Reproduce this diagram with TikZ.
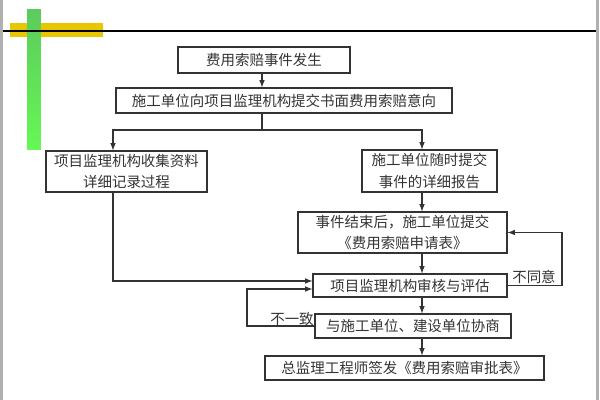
\documentclass[tikz,border=0pt]{standalone}
\usepackage{fontspec}
\newfontfamily\cjk{Noto Sans CJK SC}
\usepackage{xcolor}
\usepackage{tikz}
\usetikzlibrary{shapes, arrows, positioning, calc}
\definecolor{inchiostro}{HTML}{333333}
\definecolor{giallo}{HTML}{E8C600}
\definecolor{verdescuro}{HTML}{5CCB5C}
\definecolor{verdechiaro}{HTML}{66F855}
\definecolor{bordo}{HTML}{B0B0B0}

\begin{document}
\begin{tikzpicture}[
        passo/.style={draw=inchiostro, line width=0.8pt, align=center, inner sep=0pt,
                      text=inchiostro, font=\cjk\fontsize{10.3}{15}\selectfont},
        etichetta/.style={text=inchiostro, inner sep=0pt, font=\cjk\fontsize{10.3}{15}\selectfont},
        freccia/.style={->, >=latex, draw=inchiostro, line width=0.8pt}
    ]
                    \useasboundingbox (0,0) rectangle (15,10);

                    % cornice e decorazione
                    \fill[bordo] (0,0) rectangle (0.07,10);
                    \fill[bordo] (14.9,0) rectangle (14.97,10);
                    \fill[giallo] (0.25,9.075) rectangle (2.575,9.425);
                    \shade[top color=verdescuro, bottom color=verdechiaro] (0.675,6.25) rectangle (1.025,9.75);
                    \draw[line width=0.9pt, black] (0.07,9.225) -- (14.9,9.225);

                    % riquadri
                    \node[passo, minimum width=4.3cm, minimum height=0.65cm] (Fase1) at (6.6,8.5) {费用索赔事件发生};
                    \node[passo, minimum width=8.4cm, minimum height=0.625cm] (Fase2) at (7.1,7.4875) {施工单位向项目监理机构提交书面费用索赔意向};
                    \node[passo, minimum width=4.025cm, minimum height=1.025cm] (Fase3) at (3.1625,5.7125) {项目监理机构收集资料\\详细记录过程};
                    \node[passo, minimum width=3.375cm, minimum height=1.05cm] (Fase4) at (10.7375,5.725) {施工单位随时提交\\事件的详细报告};
                    \node[passo, minimum width=5.225cm, minimum height=1.025cm] (Fase5) at (10.0625,4.1875) {事件结束后，施工单位提交\\《费用索赔申请表》};
                    \node[passo, minimum width=4.85cm, minimum height=0.575cm] (Fase6) at (10.25,2.8625) {项目监理机构审核与评估};
                    \node[passo, minimum width=4.9cm, minimum height=0.6cm] (Fase7) at (10.325,1.85) {与施工单位、建设单位协商};
                    \node[passo, minimum width=6.975cm, minimum height=0.6cm] (Fase8) at (10.1125,0.8) {总监理工程师签发《费用索赔审批表》};

                    \node[etichetta] (NonConcorde) at (7.3,2.025) {不一致};
                    \node[etichetta] (Disaccordo) at (13.35,3.075) {不同意};

                    % punti di svolta
                    \coordinate (Nodo) at (6.55,6.75);
                    \coordinate (SplitL) at (2.825,6.75);
                    \coordinate (SplitR) at (10.55,6.75);
                    \coordinate (AngoloA) at (6.175,2.775);
                    \coordinate (AngoloB) at (2.825,2.975);
                    \coordinate (AngoloC) at (14.05,4.1875);

                    % collegamenti
                    \draw[freccia] (Nodo |- Fase1.south) to (Nodo |- Fase2.north);
                    \draw[freccia, -] (Nodo |- Fase2.south) to (Nodo);
                    \draw[freccia] (Nodo) -- (SplitL) -- (SplitL |- Fase3.north);
                    \draw[freccia] (Nodo) -- (SplitR) -- (SplitR |- Fase4.north);
                    \draw[freccia] (SplitR |- Fase4.south) to (SplitR |- Fase5.north);
                    \draw[freccia] (SplitR |- Fase5.south) to (SplitR |- Fase6.north);
                    \draw[freccia] (SplitR |- Fase6.south) to (SplitR |- Fase7.north);
                    \draw[freccia] (SplitR |- Fase7.south) to (SplitR |- Fase8.north);
                    \draw[freccia] (SplitL |- Fase3.south) -- (AngoloB) -- (AngoloB -| Fase6.west);
                    \draw[freccia] (Fase7.west) -| (AngoloA) -- (AngoloA -| Fase6.west);
                    \draw[freccia] (Fase6.east) -| (AngoloC) -- (Fase5.east);
                \end{tikzpicture}
\end{document}
